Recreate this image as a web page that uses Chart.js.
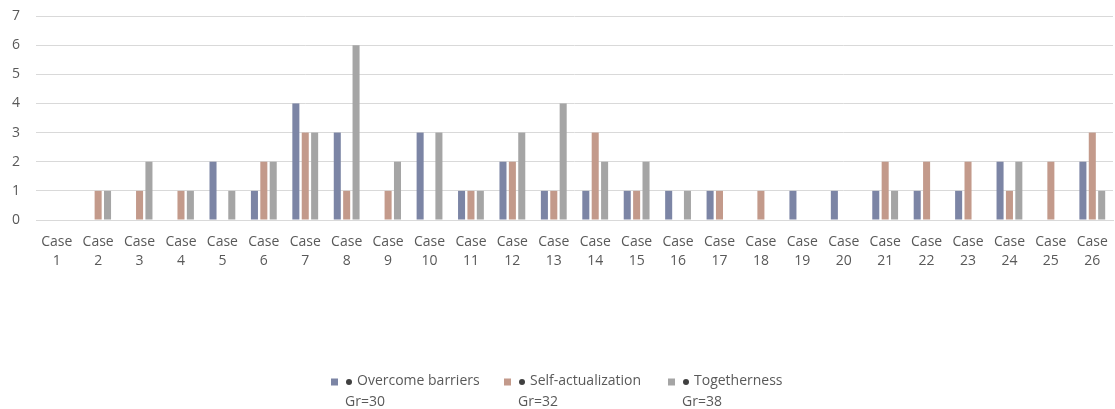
<!DOCTYPE html>
<html>
<head>
<meta charset="utf-8">
<script src="https://cdn.jsdelivr.net/npm/chart.js@4.4.1/dist/chart.umd.min.js"></script>
<style>
  html, body { margin: 0; padding: 0; background: #ffffff; }
  #wrap { width: 1115px; height: 409px; position: relative; }
</style>
</head>
<body>
<div id="wrap"><canvas id="chart"></canvas></div>
<script>
// Category labels (two-line: "Case" / number)
const caseLabels = Array.from({ length: 26 }, (_, i) => ['Case', String(i + 1)]);

// Counts per case for each theme
const overcomeBarriers = [0,0,0,0,2,1,4,3,0,3,1,2,1,1,1,1,1,0,1,1,1,1,1,2,0,2];
const selfActualization = [0,1,1,1,0,2,3,1,1,0,1,2,1,3,1,0,1,1,0,0,2,2,2,1,2,3];
const togetherness      = [0,1,2,1,1,2,3,6,2,3,1,3,4,2,2,1,0,0,0,0,1,0,0,2,0,1];

const seriesNames = ['Overcome barriers', 'Self-actualization', 'Togetherness'];
const seriesTotals = ['Gr=30', 'Gr=32', 'Gr=38'];
const yTicks = [0, 1, 2, 3, 4, 5, 6, 7];

const colors = ['#7c85a5', '#c39a8b', '#a5a5a5'];
const textColor = '#595959';
const fontFamily = '"Open Sans", "Noto Sans", sans-serif';

// Legend drawn below the plot: square swatch, bullet, name, and total on a second line
const bottomLegend = {
  id: 'bottomLegend',
  afterDraw(chart) {
    const ctx = chart.ctx;
    const xs = [331, 504, 668];
    const y1 = 381.5, y2 = 402;
    ctx.save();
    ctx.font = '14px ' + fontFamily;
    ctx.textBaseline = 'middle';
    ctx.textAlign = 'left';
    chart.data.datasets.forEach((ds, i) => {
      const x = xs[i];
      ctx.fillStyle = ds.backgroundColor;
      ctx.fillRect(x, y1 - 3, 7, 7);
      ctx.fillStyle = '#404040';
      ctx.beginPath();
      ctx.arc(x + 18, y1 + 0.5, 3, 0, Math.PI * 2);
      ctx.fill();
      ctx.fillStyle = textColor;
      ctx.fillText(seriesNames[i], x + 26, y1);
      ctx.fillText(seriesTotals[i], x + 14, y2);
    });
    ctx.restore();
  }
};

const dataSets = [overcomeBarriers, selfActualization, togetherness].map((vals, i) => ({
  label: seriesNames[i],
  data: vals,
  backgroundColor: colors[i],
  borderWidth: 0,
  categoryPercentage: 0.68,
  barPercentage: 0.75
}));

new Chart(document.getElementById('chart'), {
  type: 'bar',
  data: { labels: caseLabels, datasets: dataSets },
  options: {
    responsive: true,
    maintainAspectRatio: false,
    animation: false,
    layout: { padding: { top: 16, right: 2, bottom: 129, left: 0 } },
    plugins: {
      legend: { display: false },
      tooltip: { enabled: false }
    },
    scales: {
      x: {
        afterFit(scale) { scale.height = 60; scale.paddingLeft = 0; scale.paddingRight = 0; },
        grid: { display: false, drawTicks: false },
        border: { display: true, color: '#d9d9d9', width: 1 },
        ticks: {
          color: textColor,
          font: { family: fontFamily, size: 14, lineHeight: 1.4 },
          padding: 12,
          maxRotation: 0,
          autoSkip: false
        }
      },
      y: {
        min: 0,
        max: 7,
        afterFit(scale) { scale.width = 36; scale.paddingTop = 0; scale.paddingBottom = 0; },
        afterBuildTicks(scale) { scale.ticks = yTicks.map(v => ({ value: v })); },
        grid: { color: '#d9d9d9', drawTicks: false },
        border: { display: false },
        ticks: {
          color: textColor,
          font: { family: fontFamily, size: 14 },
          padding: 16,
          stepSize: 1
        }
      }
    }
  },
  plugins: [bottomLegend]
});
</script>
</body>
</html>
